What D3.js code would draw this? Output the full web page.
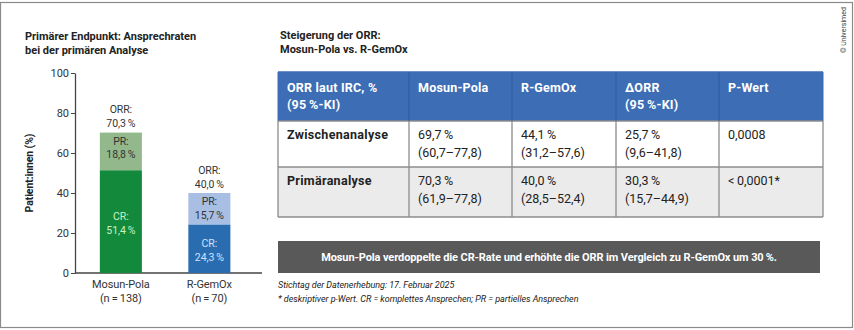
<!DOCTYPE html>
<html><head><meta charset="utf-8">
<script src="https://cdn.jsdelivr.net/npm/d3@7"></script>
<style>
html,body{margin:0;padding:0;background:#fff;}
svg{display:block;font-family:Roboto, "Noto Sans", sans-serif;}
</style></head>
<body>
<svg id="c" width="854" height="330"></svg>
<script>
// ---------- DATA ----------
const categories = ["Mosun-Pola", "R-GemOx"];
const nLabels = ["(n\u2009=\u2009138)", "(n\u2009=\u200970)"];
const crValues = [51.4, 24.3];
const prValues = [18.8, 15.7];
const orrValues = [70.3, 40.0];
const yTicks = [0, 20, 40, 60, 80, 100];

const tableHeaders = [["ORR laut IRC, %", "(95\u2009%-KI)"], ["Mosun-Pola"], ["R-GemOx"], ["\u0394ORR", "(95\u2009%-KI)"], ["P-Wert"]];
const rowLabels = ["Zwischenanalyse", "Primäranalyse"];
const mosunPolaORR = ["69,7\u2009%", "70,3\u2009%"];
const mosunPolaCI = ["(60,7–77,8)", "(61,9–77,8)"];
const rGemOxORR = ["44,1\u2009%", "40,0\u2009%"];
const rGemOxCI = ["(31,2–57,6)", "(28,5–52,4)"];
const deltaORR = ["25,7\u2009%", "30,3\u2009%"];
const deltaCI = ["(9,6–41,8)", "(15,7–44,9)"];
const pValues = ["0,0008", "<\u20090,0001*"];

const fmt = v => d3.format(".1f")(v).replace(".", ",") + "\u2009%";

// ---------- LAYOUT ----------
const svg = d3.select("#c");
const dark = "#222";

// frame
svg.append("rect").attr("x", 0.5).attr("y", 2.5).attr("width", 852).attr("height", 325)
  .attr("fill", "none").attr("stroke", "#8a8a8a").attr("stroke-width", 1.2);

// left title
const lt = svg.append("text").attr("font-weight", 700).attr("font-size", 11).attr("fill", dark);
lt.append("tspan").attr("x", 25).attr("y", 40).text("Primärer Endpunkt: Ansprechraten");
lt.append("tspan").attr("x", 25).attr("y", 54).text("bei der primären Analyse");

// scales
const y = d3.scaleLinear().domain([0, 100]).range([273, 73]);
const x = d3.scaleBand().domain(categories).range([75, 262]).paddingInner(0.525).paddingOuter(0.319).align(0.44);

// y axis
const yAxis = d3.axisLeft(y).tickValues(yTicks).tickSize(4).tickSizeOuter(0).tickPadding(2);
const ga = svg.append("g").attr("transform", "translate(75,0)").call(yAxis);
ga.select(".domain").attr("stroke", "#444").attr("stroke-width", 1.3);
ga.selectAll(".tick line").attr("stroke", "#444");
ga.selectAll(".tick text").attr("font-size", 11).attr("fill", "#333").attr("font-family", "Roboto");

// x baseline
svg.append("line").attr("x1", 75).attr("x2", 262).attr("y1", y(0)).attr("y2", y(0))
  .attr("stroke", "#444").attr("stroke-width", 1.3);

// y title
svg.append("text").attr("transform", "translate(33," + ((y(0) + y(100)) / 2) + ") rotate(-90)")
  .attr("text-anchor", "middle").attr("font-weight", 700).attr("font-size", 10.5).attr("fill", dark)
  .attr("letter-spacing", -0.1)
  .text("Patient:innen (%)");

const crColors = ["#138a3b", "#2a6cb0"];
const prColors = ["#92b88c", "#a8bee3"];
const crText = ["#c9f2c4", "#cfe2ff"];

const bars = categories.map((c, i) => ({c, i, cr: crValues[i], pr: prValues[i], orr: orrValues[i]}));
const g = svg.append("g");
g.selectAll("rect.cr").data(bars).join("rect").attr("class", "cr")
  .attr("x", d => x(d.c)).attr("width", x.bandwidth())
  .attr("y", d => y(d.cr)).attr("height", d => y(0) - y(d.cr)).attr("fill", d => crColors[d.i]);
g.selectAll("rect.pr").data(bars).join("rect").attr("class", "pr")
  .attr("x", d => x(d.c)).attr("width", x.bandwidth())
  .attr("y", d => y(d.cr + d.pr)).attr("height", d => y(d.cr) - y(d.cr + d.pr)).attr("fill", d => prColors[d.i]);

function twoLine(sel, cx, y1, l1, l2, color, size) {
  const t = sel.append("text").attr("text-anchor", "middle").attr("font-size", size || 10.5).attr("fill", color)
    .attr("letter-spacing", -0.1);
  t.append("tspan").attr("x", cx).attr("y", y1).text(l1);
  t.append("tspan").attr("x", cx).attr("y", y1 + 13.5).text(l2);
}
bars.forEach(d => {
  const cx = x(d.c) + x.bandwidth() / 2;
  twoLine(g, cx, y(d.orr) - 19, "ORR:", fmt(d.orr), "#333");
  twoLine(g, cx, y(d.cr + d.pr) + 12, "PR:", fmt(d.pr), "#333");
  const crMid = (y(0) + y(d.cr)) / 2;
  twoLine(g, cx, crMid - 1.5, "CR:", fmt(d.cr), crText[d.i]);
  twoLine(g, cx, y(0) + 15, d.c, nLabels[d.i], "#333", 11);
});

// right title
const rt = svg.append("text").attr("font-weight", 700).attr("font-size", 11).attr("fill", dark);
rt.append("tspan").attr("x", 280).attr("y", 39).text("Steigerung der ORR:");
rt.append("tspan").attr("x", 280).attr("y", 53).text("Mosun-Pola vs. R-GemOx");

// table
const colEdges = [278, 409, 512, 616, 719, 823];
const rowEdges = [72, 121, 167, 217];
const tg = svg.append("g");
tg.append("rect").attr("x", colEdges[0]).attr("y", rowEdges[0]).attr("width", colEdges[5] - colEdges[0])
  .attr("height", rowEdges[1] - rowEdges[0]).attr("fill", "#3d6db5");
tg.append("rect").attr("x", colEdges[0]).attr("y", rowEdges[2]).attr("width", colEdges[5] - colEdges[0])
  .attr("height", rowEdges[3] - rowEdges[2]).attr("fill", "#ebebeb");
rowEdges.forEach((ry, i) => tg.append("line").attr("x1", colEdges[0]).attr("x2", colEdges[5])
  .attr("y1", ry).attr("y2", ry).attr("stroke", i === 0 ? "#3d6db5" : "#8c8c8c").attr("stroke-width", 1.3));
colEdges.forEach((cx, i) => {
  tg.append("line").attr("x1", cx).attr("x2", cx).attr("y1", rowEdges[0]).attr("y2", rowEdges[1])
    .attr("stroke", (i === 0 || i === 5) ? "#3d6db5" : "#2d5a9c").attr("stroke-width", 1);
  tg.append("line").attr("x1", cx).attr("x2", cx).attr("y1", rowEdges[1]).attr("y2", rowEdges[3])
    .attr("stroke", "#8c8c8c").attr("stroke-width", 1.3);
});
tableHeaders.forEach((lines, j) => {
  const t = tg.append("text").attr("font-weight", 700).attr("font-size", 12.5).attr("fill", "#fff")
    .attr("letter-spacing", 0.2);
  lines.forEach((l, k) => t.append("tspan").attr("x", colEdges[j] + 9).attr("y", rowEdges[0] + 20 + k * 17).text(l));
});
const rowsData = rowLabels.map((r, i) => [[r], [mosunPolaORR[i], mosunPolaCI[i]], [rGemOxORR[i], rGemOxCI[i]], [deltaORR[i], deltaCI[i]], [pValues[i]]]);
rowsData.forEach((cells, i) => {
  cells.forEach((lines, j) => {
    const t = tg.append("text").attr("font-weight", j === 0 ? 700 : 400).attr("font-size", 12.5).attr("fill", dark)
      .attr("letter-spacing", j === 0 ? 0.3 : 0);
    lines.forEach((l, k) => t.append("tspan").attr("x", colEdges[j] + 9).attr("y", rowEdges[i + 1] + 18 + k * 18).text(l));
  });
});

// banner
svg.append("rect").attr("x", 278).attr("y", 241).attr("width", 542).attr("height", 32).attr("fill", "#595959");
svg.append("text").attr("x", 549).attr("y", 261).attr("text-anchor", "middle").attr("font-weight", 700)
  .attr("font-size", 11).attr("fill", "#fff").attr("letter-spacing", -0.1)
  .text("Mosun-Pola verdoppelte die CR-Rate und erhöhte die ORR im Vergleich zu R-GemOx um 30\u2009%.");

// footnotes
const fn = svg.append("text").attr("font-style", "italic").attr("font-size", 9).attr("fill", dark).attr("letter-spacing", -0.05);
fn.append("tspan").attr("x", 278).attr("y", 288).text("Stichtag der Datenerhebung: 17. Februar 2025");
fn.append("tspan").attr("x", 278).attr("y", 302).text("* deskriptiver p-Wert. CR = komplettes Ansprechen; PR = partielles Ansprechen");

// copyright
svg.append("text").attr("transform", "translate(846,53) rotate(-90)").attr("font-size", 7).attr("fill", "#444")
  .text("\u00a9 Universimed");
</script>
</body></html>
